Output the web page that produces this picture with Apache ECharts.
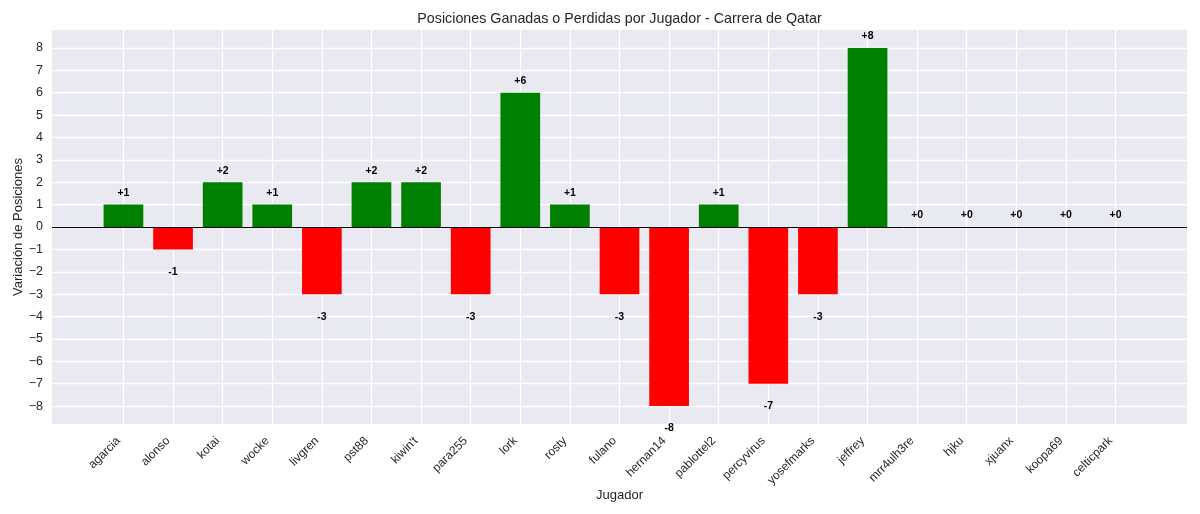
<!DOCTYPE html>
<html>
<head>
<meta charset="utf-8">
<title>Posiciones Ganadas o Perdidas por Jugador</title>
<script src="https://cdn.jsdelivr.net/npm/echarts@6/dist/echarts.min.js"></script>
<style>
  html, body { margin: 0; padding: 0; background: #fff; }
  #chart { width: 1200px; height: 514px; }
</style>
</head>
<body>
<div id="chart"></div>
<script>
var jugadores = ['agarcia', 'alonso', 'kotai', 'wocke', 'livgren', 'pst88', "kiwin't", 'para255', 'lork', 'rosty', 'fulano',
  'hernan14', 'pablottel2', 'percyvirus', 'yosefmarks', 'jeffrey', 'mrr4ulh3re', 'hjku', 'xjuanx', 'koopa69', 'celticpark']
var variacion = [1, -1, 2, 1, -3, 2, 2, -3, 6, 1, -3, -8, 1, -7, -3, 8, 0, 0, 0, 0, 0]
var yTicks = [-8, -7, -6, -5, -4, -3, -2, -1, 0, 1, 2, 3, 4, 5, 6, 7, 8]
var xTicks = jugadores.map(function(n, i) { return i })

var fuente = '"Liberation Sans", Arial, sans-serif'
var colorTexto = '#262626'

var chart = echarts.init(document.getElementById('chart'), null, { renderer: 'canvas' })

chart.setOption({
  animation: false,
  backgroundColor: '#fff',
  textStyle: { fontFamily: fuente },
  title: {
    text: 'Posiciones Ganadas o Perdidas por Jugador - Carrera de Qatar',
    left: 614.5,
    top: 7,
    textAlign: 'center',
    textStyle: { fontFamily: fuente, fontSize: 14.3, fontWeight: 'normal', color: colorTexto }
  },
  grid: {
    left: 52, right: 13, top: 30, bottom: 90,
    outerBoundsMode: 'none',
    show: true, backgroundColor: '#e9e9f1', borderWidth: 0
  },
  xAxis: {
    type: 'value',
    min: -1.44,
    max: 21.44,
    name: 'Jugador',
    nameLocation: 'middle',
    nameMoveOverlap: false,
    nameGap: 65,
    nameTextStyle: { fontSize: 13, color: colorTexto },
    axisLine: { show: false },
    axisTick: { show: false, customValues: xTicks },
    splitLine: { show: true, lineStyle: { color: '#fff', width: 1.3 } },
    axisLabel: {
      customValues: xTicks,
      rotate: 45,
      margin: 10,
      padding: [0, 7, 0, 0],
      fontSize: 12,
      color: colorTexto,
      formatter: function(v) { return jugadores[v] }
    }
  },
  yAxis: {
    type: 'value',
    min: -8.8,
    max: 8.8,
    name: 'Variación de Posiciones',
    nameLocation: 'middle',
    nameMoveOverlap: false,
    nameGap: 27,
    nameTextStyle: { fontSize: 13, color: colorTexto },
    axisLine: { show: false },
    axisTick: { show: false, customValues: yTicks },
    splitLine: { show: true, lineStyle: { color: '#fff', width: 1.3 } },
    axisLabel: {
      customValues: yTicks,
      margin: 9,
      fontSize: 12.5,
      color: colorTexto,
      formatter: function(v) { return String(v).replace('-', '\u2212') }
    }
  },
  series: [{
    type: 'bar',
    barWidth: '80%',
    data: variacion.map(function(v, i) {
      return {
        value: [i, v],
        itemStyle: { color: v >= 0 ? '#008000' : '#ff0000' },
        label: { position: v >= 0 ? 'top' : 'bottom', distance: v >= 0 ? 6 : 17 }
      }
    }),
    label: {
      show: true,
      fontSize: 10.5,
      fontWeight: 'bold',
      color: '#000',
      formatter: function(p) {
        var v = p.value[1]
        return (v >= 0 ? '+' : '') + v
      }
    },
    markLine: {
      silent: true,
      symbol: 'none',
      label: { show: false },
      lineStyle: { color: '#000', width: 1, type: 'solid' },
      data: [{ yAxis: 0 }]
    }
  }]
})
</script>
</body>
</html>
